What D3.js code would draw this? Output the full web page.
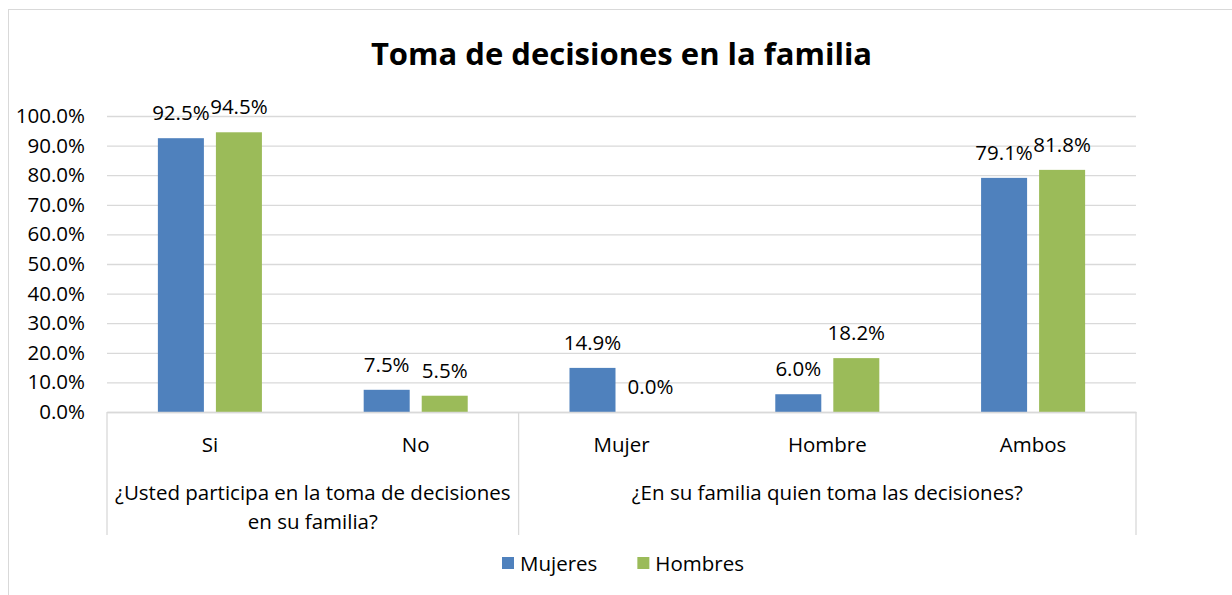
<!DOCTYPE html>
<html>
<head>
<meta charset="utf-8">
<script src="https://cdn.jsdelivr.net/npm/d3@7"></script>
<style>
  body { margin: 0; background: #fff; }
  text { font-family: "Open Sans", "Noto Sans", sans-serif; fill: #000; }
</style>
</head>
<body>
<svg id="chart" width="1232" height="595"></svg>
<script>
// data
const categories = ["Si", "No", "Mujer", "Hombre", "Ambos"];
const seriesNames = ["Mujeres", "Hombres"];
const mujeres = [92.5, 7.5, 14.9, 6.0, 79.1];
const hombres = [94.5, 5.5, 0.0, 18.2, 81.8];
const yTicks = [0, 10, 20, 30, 40, 50, 60, 70, 80, 90, 100];
const groupLabels = [
    ["¿Usted participa en la toma de decisiones", "en su familia?"],
    ["¿En su familia quien toma las decisiones?"]
];
const groupSpans = [2, 3];
const colors = ["#4F81BD", "#9BBB59"];

const svg = d3.select("#chart");
const W = 1232, H = 595;
const margin = { top: 116, right: 96, bottom: 183, left: 107 };
const width = W - margin.left - margin.right;
const height = H - margin.top - margin.bottom;
const fs = 20.5;

svg.append("rect").attr("width", W).attr("height", H).attr("fill", "#fff");
// outer chart border (only top/left visible)
svg.append("rect")
    .attr("x", 8.5).attr("y", 9.5)
    .attr("width", 1300).attr("height", 700)
    .attr("fill", "none").attr("stroke", "#d9d9d9");

svg.append("text")
    .attr("x", margin.left + width / 2)
    .attr("y", 65)
    .attr("text-anchor", "middle")
    .attr("font-size", 31)
    .attr("font-weight", "bold")
    .text("Toma de decisiones en la familia");

const chart = svg.append("g")
    .attr("transform", `translate(${margin.left}, ${margin.top})`);

const x = d3.scaleBand().domain(categories).range([0, width]).padding(0);
const x1 = d3.scaleBand().domain(seriesNames).range([0, x.bandwidth()])
    .paddingInner(0.207).paddingOuter(0.877);
const y = d3.scaleLinear().domain([0, 100]).range([height, 0]);

// gridlines + y labels
const yAxis = chart.append("g")
    .call(d3.axisLeft(y).tickValues(yTicks).tickSize(-width).tickPadding(22)
        .tickFormat(d => d.toFixed(1) + "%"));
yAxis.select(".domain").remove();
yAxis.selectAll(".tick line").attr("stroke", "#d9d9d9").attr("stroke-width", 1.3);
yAxis.selectAll(".tick text").attr("font-size", fs).attr("fill", "#000")
    .style("font-family", null);

// bars
const rows = categories.map((c, i) => ({ cat: c, vals: [mujeres[i], hombres[i]] }));
const grp = chart.append("g").selectAll("g")
    .data(rows)
    .join("g")
    .attr("transform", d => `translate(${x(d.cat)},0)`);

grp.selectAll("rect")
    .data(d => d.vals.map((v, j) => ({ key: seriesNames[j], v, j })))
    .join("rect")
    .attr("x", d => x1(d.key))
    .attr("y", d => y(d.v))
    .attr("width", x1.bandwidth())
    .attr("height", d => height - y(d.v))
    .attr("fill", d => colors[d.j]);

grp.selectAll("text.lbl")
    .data(d => d.vals.map((v, j) => ({ key: seriesNames[j], v, j })))
    .join("text")
    .attr("class", "lbl")
    .attr("x", d => x1(d.key) + x1.bandwidth() / 2)
    .attr("y", d => y(d.v) - 18)
    .attr("text-anchor", "middle")
    .attr("font-size", fs)
    .text(d => d.v.toFixed(1) + "%");

// x axis: baseline + category labels
const xAxis = chart.append("g")
    .attr("transform", `translate(0, ${height})`)
    .call(d3.axisBottom(x).tickSize(0).tickPadding(25));
xAxis.select(".domain").attr("stroke", "#d9d9d9").attr("stroke-width", 1.3);
xAxis.selectAll(".tick text").attr("font-size", fs).attr("fill", "#000")
    .style("font-family", null);

// group separators and labels
let start = 0;
const groups = groupSpans.map((s, i) => {
    const g = { x0: start, x1: start + s, lines: groupLabels[i] };
    start += s;
    return g;
});
const sepIdx = [0].concat(groups.map(g => g.x1));
chart.append("g").selectAll("line")
    .data(sepIdx)
    .join("line")
    .attr("x1", d => d * x.step())
    .attr("x2", d => d * x.step())
    .attr("y1", height)
    .attr("y2", height + 123)
    .attr("stroke", "#d9d9d9")
    .attr("stroke-width", 1.3);

chart.append("g").selectAll("text")
    .data(groups)
    .join("text")
    .attr("x", d => (d.x0 + d.x1) / 2 * x.step())
    .attr("y", height + 88)
    .attr("text-anchor", "middle")
    .attr("font-size", fs)
    .selectAll("tspan")
    .data(d => d.lines)
    .join("tspan")
    .attr("x", function () { return d3.select(this.parentNode).attr("x"); })
    .attr("dy", (d, i) => i === 0 ? 0 : 29)
    .text(d => d);

// legend
const legend = svg.append("g").attr("transform", "translate(502, 563)");
const items = legend.selectAll("g")
    .data(seriesNames)
    .join("g");
items.append("rect")
    .attr("y", -6).attr("width", 12).attr("height", 12)
    .attr("fill", (d, i) => colors[i]);
items.append("text")
    .attr("x", 18).attr("y", 7.5)
    .attr("font-size", fs)
    .text(d => d);
let lx = 0;
items.each(function () {
    d3.select(this).attr("transform", `translate(${lx},0)`);
    lx += 18 + this.querySelector("text").getComputedTextLength() + 40;
});
</script>
</body>
</html>
